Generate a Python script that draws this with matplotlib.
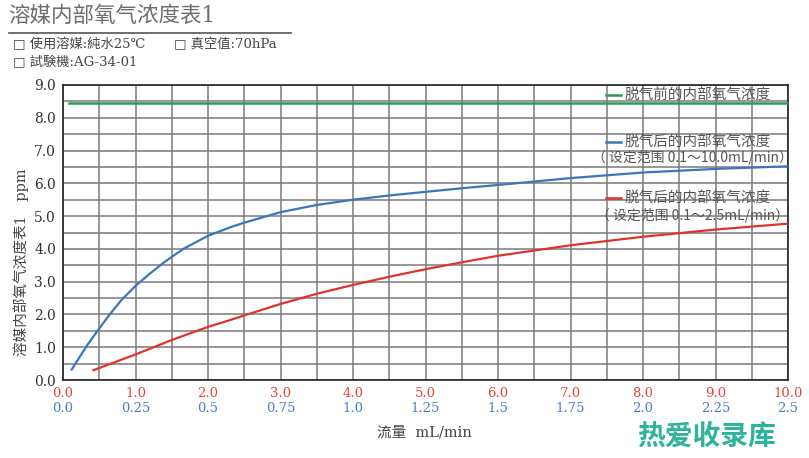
#!/usr/bin/env python

"""Dissolved oxygen concentration chart (solvent internal O2 vs flow)"""

import numpy as np
import matplotlib
matplotlib.use("Agg")
import matplotlib.pyplot as plt
from matplotlib.lines import Line2D

plt.rcParams['font.family'] = ['Noto Sans CJK SC', 'DejaVu Sans']

# {{{ data
# flow on the red scale (mL/min, 0-10)
xBlue = [0.12, 0.2, 0.33, 0.47, 0.63, 0.81, 1.0, 1.2, 1.4, 1.66, 2.0, 2.32,
         2.5, 3.0, 3.5, 4.0, 4.5, 5.0, 5.5, 6.0, 7.0, 8.0, 9.0, 10.0]
yBlue = [0.32, 0.6, 1.05, 1.48, 1.96, 2.45, 2.87, 3.25, 3.6, 4.0, 4.4, 4.67,
         4.8, 5.12, 5.34, 5.5, 5.63, 5.74, 5.85, 5.95, 6.16, 6.33, 6.44,
         6.52]

xRed = [0.42, 1.0, 1.5, 2.0, 2.32, 2.5, 3.0, 3.5, 4.0, 4.5, 5.0, 5.5, 6.0,
        7.0, 8.0, 9.0, 10.0]
yRed = [0.3, 0.78, 1.22, 1.62, 1.84, 1.97, 2.32, 2.63, 2.9, 3.15, 3.38,
        3.59, 3.79, 4.11, 4.37, 4.59, 4.77]

xGreen = [0.08, 10.0]
yGreen = [8.44, 8.44]

redTicks = [0, 1, 2, 3, 4, 5, 6, 7, 8, 9, 10]
redLabels = ["0.0", "1.0", "2.0", "3.0", "4.0", "5.0", "6.0", "7.0", "8.0",
             "9.0", "10.0"]
blueTicks = [0, 0.25, 0.5, 0.75, 1.0, 1.25, 1.5, 1.75, 2.0, 2.25, 2.5]
blueLabels = ["0.0", "0.25", "0.5", "0.75", "1.0", "1.25", "1.5", "1.75",
              "2.0", "2.25", "2.5"]
yTicks = [0, 1, 2, 3, 4, 5, 6, 7, 8, 9]
yLabels = ["0.0", "1.0", "2.0", "3.0", "4.0", "5.0", "6.0", "7.0", "8.0",
           "9.0"]
# }}}

green = "#2a9d55"
blue = "#3b76bd"
red = "#e2332b"
blueTxt = "#4f7cc4"
redTxt = "#e5453b"
txtGray = "#555555"
serif = "DejaVu Serif"
serifCJK = ["DejaVu Serif", "Noto Sans CJK SC"]

W, H = 809, 458
fig = plt.figure(figsize=(W/100, H/100), dpi=100)
ax = fig.add_axes([63/W, 1-380/H, 725/W, 295/H])

ax.plot(xGreen, yGreen, color=green, lw=1.8, zorder=3)
ax.plot(xBlue, yBlue, color=blue, lw=1.6, zorder=3, solid_joinstyle="round")
ax.plot(xRed, yRed, color=red, lw=1.6, zorder=3, solid_joinstyle="round")

ax.set_xlim(0, 10)
ax.set_ylim(0, 9)

# Grid every 0.5 in both directions
ax.set_xticks(np.arange(0, 10.01, 0.5), minor=True)
ax.set_yticks(np.arange(0, 9.01, 0.5), minor=True)
ax.grid(which="both", color="#7a7a7a", lw=1.1)
ax.set_axisbelow(True)

ax.set_xticks(redTicks, redLabels)
ax.set_yticks(yTicks, yLabels)
ax.tick_params(which="both", length=0)
ax.tick_params(axis="x", pad=5, labelcolor=redTxt, labelsize=9.5)
ax.tick_params(axis="y", pad=5, labelcolor="#333333", labelsize=10)
for lab in ax.get_xticklabels() + ax.get_yticklabels():
    lab.set_family(serif)
for sp in ax.spines.values():
    sp.set_color("#222222")
    sp.set_linewidth(1.2)

# Second x scale (0-2.5) below the first
sec = ax.secondary_xaxis("bottom", functions=(lambda x: x/4, lambda x: x*4))
sec.set_xticks(blueTicks, blueLabels)
sec.spines["bottom"].set_visible(False)
sec.tick_params(length=0, pad=16, labelcolor=blueTxt, labelsize=9.5)
for lab in sec.get_xticklabels():
    lab.set_family(serif)

# Legend-like annotations inside the plot
legFs = 10.5
def legLine(xa, ya, color):
    ax.plot([xa, xa+0.02], [ya, ya], color=color, lw=1.8,
            transform=ax.transAxes, clip_on=False)

legLine(0.749, 0.966, green)
ax.text(0.774, 0.966, "脱气前的内部氧气浓度", transform=ax.transAxes,
        fontsize=legFs, color=txtGray, va="center", ha="left")

legLine(0.749, 0.806, blue)
ax.text(0.774, 0.806, "脱气后的内部氧气浓度", transform=ax.transAxes,
        fontsize=legFs, color=txtGray, va="center", ha="left")
ax.text(0.868, 0.753, "（ 设定范围 0.1～10.0mL/min）", transform=ax.transAxes,
        fontsize=10, color=txtGray, va="center", ha="center")

legLine(0.749, 0.617, red)
ax.text(0.774, 0.617, "脱气后的内部氧气浓度", transform=ax.transAxes,
        fontsize=legFs, color=txtGray, va="center", ha="left")
ax.text(0.868, 0.559, "（ 设定范围 0.1～2.5mL/min）", transform=ax.transAxes,
        fontsize=10, color=txtGray, va="center", ha="center")

# Header
fig.text(8/W, 1-16/H, "溶媒内部氧气浓度表1", fontsize=15.5, color="#6e6e6e",
         va="center", ha="left", family=serifCJK)
fig.add_artist(Line2D([9/W, 291/W], [1-33/H, 1-33/H], color="#555555",
                      lw=1.2))
fig.text(13/W, 1-45/H, "□ 使用溶媒:純水25℃", fontsize=9.5, color="#444444",
         va="center", ha="left", family=serifCJK)
fig.text(174/W, 1-45/H, "□ 真空值:70hPa", fontsize=9.5, color="#444444",
         va="center", ha="left", family=serifCJK)
fig.text(13/W, 1-62/H, "□ 試験機:AG-34-01", fontsize=9.5, color="#444444",
         va="center", ha="left", family=serifCJK)

# Axis titles
fig.text(21/W, 1-262/H, "溶媒内部氧气浓度表1　ppm", rotation=90,
         fontsize=10.5, color="#444444", va="center", ha="center",
         family=serifCJK)
fig.text(424/W, 1-432/H, "流量  mL/min", fontsize=10.5, color="#444444",
         va="center", ha="center", family=serifCJK)

# Watermark
fig.text(706/W, 1-437/H, "热爱收录库", fontsize=20, color="#2fb39b",
         fontweight="bold", va="center", ha="center")

fig.savefig("out.png", dpi=100)
plt.close(fig)
